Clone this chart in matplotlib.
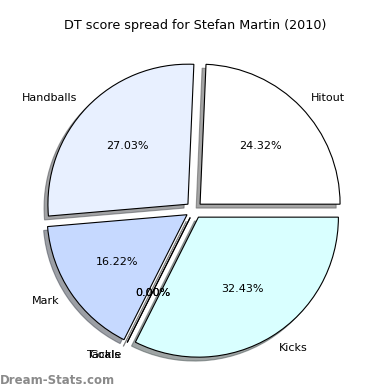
import matplotlib
matplotlib.use("Agg")
import matplotlib.pyplot as plt

categories = ["Hitout", "Handballs", "Mark", "Tackle", "Goals", "Kicks"]
values = [9, 10, 6, 0, 0, 12]
colors = ["#ffffff", "#e8f0ff", "#c6d9ff", "#ffffff", "#ffffff", "#d9ffff"]
explode = [0.06] * len(values)
title = "DT score spread for Stefan Martin (2010)"
watermark = "Dream-Stats.com"

fig = plt.figure(figsize=(3.9, 3.9), dpi=100)
ax = fig.add_axes([19 / 390, 5 / 390, 350 / 390, 350 / 390])
wedges, texts, autotexts = ax.pie(
    values, labels=categories, colors=colors, explode=explode,
    autopct="%1.2f%%", shadow=True, startangle=0,
    wedgeprops=dict(edgecolor="black", linewidth=0.8),
    textprops=dict(fontsize=8),
)
ax.set_xlim(-1.25, 1.25)
ax.set_ylim(-1.25, 1.25)
ax.set_aspect("equal")
ax.axis("off")

fig.text(0.5, 1 - 25 / 390, title, ha="center", va="center", fontsize=9.2)
fig.text(0.0, 1 - 380 / 390, watermark, ha="left", va="center",
         fontsize=8.5, color="#8a8a8a", fontweight="bold")

fig.savefig("out.png", dpi=100)
